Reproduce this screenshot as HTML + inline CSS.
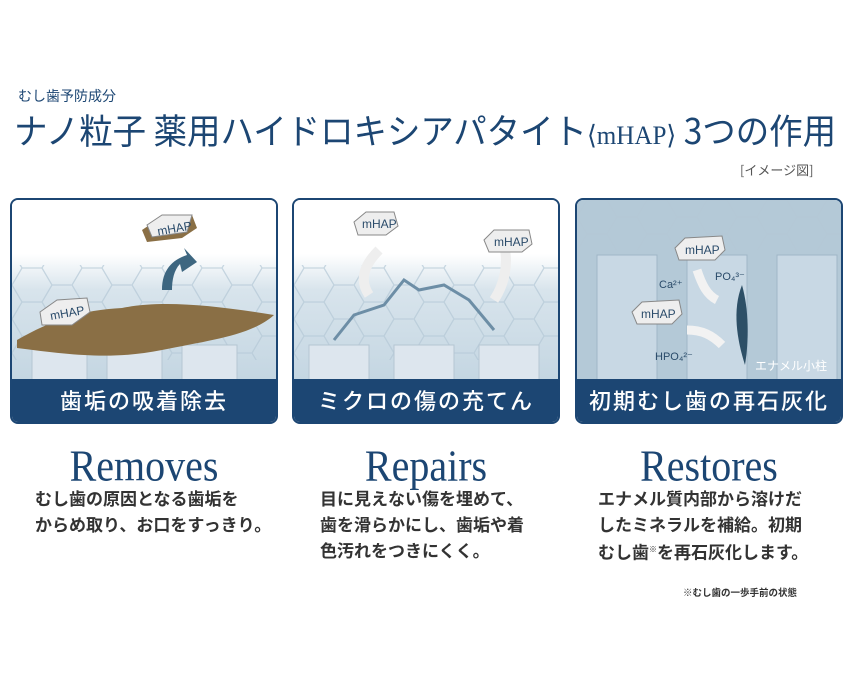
<!DOCTYPE html>
<html><head><meta charset="utf-8"><style>
body{margin:0;width:850px;height:680px;background:#fff;position:relative;overflow:hidden;font-family:"Liberation Sans","Noto Sans CJK JP",sans-serif}
.a{position:absolute;white-space:nowrap}
.panel{position:absolute;top:198px;width:268px;height:226px;border:2px solid #1c4673;border-radius:8px;overflow:hidden;box-sizing:border-box;background:#fff}
.band{position:absolute;left:0;right:0;bottom:0;height:43px;background:#1c4673;color:#fff;font-size:22px;font-weight:500;text-align:center;line-height:43px;letter-spacing:2px;font-family:"Noto Sans CJK JP",sans-serif}
.en{font-family:"Liberation Serif",serif;font-size:40px;color:#1c4673;text-align:center;width:268px;transform:scaleY(1.1)}
.jp{font-family:"Noto Sans CJK JP",sans-serif;font-weight:bold;font-size:17px;color:#333;line-height:26px}
.tag{font-family:"Liberation Sans",sans-serif;font-size:12px;fill:#2a4b6a}
</style></head><body>
<div class="a" style="left:18px;top:86px;font-size:14px;color:#1c4673;font-family:'Noto Sans CJK JP',sans-serif">むし歯予防成分</div>
<div class="a" style="left:14px;top:106px;font-size:32px;line-height:48px;color:#1c4673;font-family:'Noto Sans CJK JP',sans-serif;transform:scale(1.045,1.1);transform-origin:left center">ナノ粒子 薬用ハイドロキシアパタイト<span style="font-size:24px;font-family:'Liberation Serif',serif">⟨mHAP⟩</span> 3つの作用</div>
<div class="a" style="left:740px;top:160px;font-size:13px;color:#555;font-family:'Noto Sans CJK JP',sans-serif">[イメージ図]</div>

<svg width="0" height="0" style="position:absolute"><defs>
<linearGradient id="bg" x1="0" y1="0" x2="0" y2="1"><stop offset="0" stop-color="#fff"/><stop offset="0.3" stop-color="#fff"/><stop offset="0.5" stop-color="#d8e4ec"/><stop offset="1" stop-color="#c4d6e2"/></linearGradient>
<pattern id="hex" width="60" height="34" patternUnits="userSpaceOnUse"><path d="M0 17 L10 0 L30 0 L40 17 L30 34 L10 34 Z M40 17 L60 17" fill="none" stroke="#b4c8d6" stroke-width="1.3"/></pattern>
</defs></svg>

<div class="panel" style="left:10px">
<svg width="264" height="180" style="position:absolute;left:0;top:0">
<rect width="264" height="180" fill="url(#bg)"/>
<rect y="65" width="264" height="95" fill="url(#hex)" opacity="0.7"/>
<g fill="#dde6ee" stroke="#b5c6d3"><rect x="20" y="145" width="55" height="40"/><rect x="95" y="145" width="55" height="40"/><rect x="170" y="145" width="55" height="40"/></g>
<path d="M5 140 C40 120 70 110 110 108 C150 100 200 105 262 115 C240 135 200 140 150 150 C100 160 60 155 5 148 Z" fill="#8a6f45"/>
<path d="M150 90 C150 70 160 60 175 55 L172 48 L185 62 L170 72 L168 64 C162 70 160 80 160 90 Z" fill="#3d6680"/>
<path d="M130 30 L145 20 L180 15 L185 28 L170 38 L135 42 Z" fill="#8a6f45"/>
<path d="M135 25 L150 15 L180 15 L175 32 L140 37 Z" fill="#eee" stroke="#888"/>
<text x="145" y="33" class="tag" transform="rotate(-10 160 28)">mHAP</text>
<path d="M28 112 L45 100 L75 98 L78 112 L60 125 L30 125 Z" fill="#eee" stroke="#888"/>
<text x="38" y="118" class="tag" transform="rotate(-10 50 114)">mHAP</text>
</svg>
<div class="band">歯垢の吸着除去</div></div>

<div class="panel" style="left:292px">
<svg width="264" height="180" style="position:absolute;left:0;top:0">
<rect width="264" height="180" fill="url(#bg)"/>
<rect y="65" width="264" height="95" fill="url(#hex)" opacity="0.7"/>
<g fill="#dde6ee" stroke="#b5c6d3"><rect x="15" y="145" width="60" height="40"/><rect x="100" y="145" width="60" height="40"/><rect x="185" y="145" width="60" height="40"/></g>
<path d="M40 140 L60 115 L90 105 L110 80 L125 90 L150 85 L175 100 L200 130" fill="none" stroke="#6d8ea6" stroke-width="3"/>
<path d="M85 50 C70 65 65 80 75 95" fill="none" stroke="#eee" stroke-width="10"/>
<path d="M210 45 C215 65 210 85 200 100" fill="none" stroke="#eee" stroke-width="10"/>
<path d="M60 22 L72 12 L100 12 L104 26 L92 35 L64 35 Z" fill="#eee" stroke="#888"/>
<text x="68" y="28" class="tag">mHAP</text>
<path d="M190 40 L200 30 L235 30 L238 44 L228 52 L195 52 Z" fill="#eee" stroke="#888"/>
<text x="200" y="46" class="tag">mHAP</text>
</svg>
<div class="band">ミクロの傷の充てん</div></div>

<div class="panel" style="left:575px">
<svg width="264" height="180" style="position:absolute;left:0;top:0">
<rect width="264" height="180" fill="#b4c9d7"/>
<rect width="264" height="50" fill="url(#hex)" opacity="0.8"/>
<g fill="#c8d8e4" stroke="#9fb6c7"><rect x="20" y="55" width="60" height="130"/><rect x="110" y="55" width="60" height="130"/><rect x="200" y="55" width="60" height="130"/></g>
<path d="M165 85 C155 110 160 140 168 165 C172 140 172 110 165 85 Z" fill="#2d4f66"/>
<path d="M120 70 C125 85 130 95 140 100" fill="none" stroke="#f2f2f2" stroke-width="9"/>
<path d="M110 130 C125 130 135 135 145 145" fill="none" stroke="#f2f2f2" stroke-width="9"/>
<path d="M98 48 L108 38 L145 36 L148 50 L138 60 L102 60 Z" fill="#eee" stroke="#888"/>
<text x="108" y="54" class="tag">mHAP</text>
<path d="M55 112 L65 102 L102 100 L105 114 L95 124 L60 124 Z" fill="#eee" stroke="#888"/>
<text x="64" y="118" class="tag">mHAP</text>
<text x="82" y="88" class="tag" style="font-size:11px">Ca²⁺</text>
<text x="138" y="80" class="tag" style="font-size:11px">PO₄³⁻</text>
<text x="78" y="160" class="tag" style="font-size:11px">HPO₄²⁻</text>
<text x="178" y="170" style="font-size:12px;fill:#fff;font-family:'Noto Sans CJK JP',sans-serif">エナメル小柱</text>
</svg>
<div class="band">初期むし歯の再石灰化</div></div>

<div class="a en" style="left:10px;top:442px">Removes</div>
<div class="a en" style="left:292px;top:442px">Repairs</div>
<div class="a en" style="left:575px;top:442px">Restores</div>
<div class="a jp" style="left:35px;top:485px">むし歯の原因となる歯垢を<br>からめ取り、お口をすっきり。</div>
<div class="a jp" style="left:320px;top:485px">目に見えない傷を埋めて、<br>歯を滑らかにし、歯垢や着<br>色汚れをつきにくく。</div>
<div class="a jp" style="left:598px;top:485px">エナメル質内部から溶けだ<br>したミネラルを補給。初期<br>むし歯<sup style="font-size:8px">※</sup>を再石灰化します。</div>
<div class="a" style="left:683px;top:585px;font-size:9.5px;font-weight:bold;color:#333;font-family:'Noto Sans CJK JP',sans-serif">※むし歯の一歩手前の状態</div>
</body></html>
